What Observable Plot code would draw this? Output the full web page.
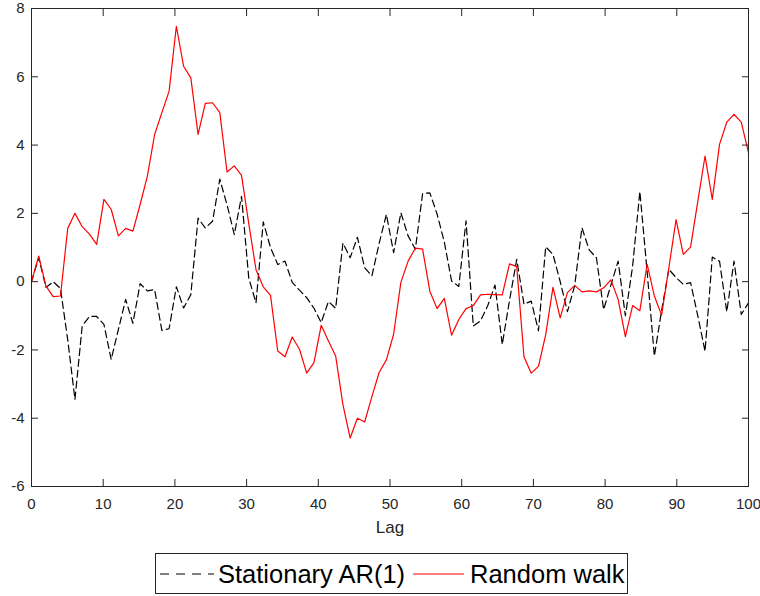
<!DOCTYPE html>
<html>
<head>
<meta charset="utf-8">
<script src="https://cdn.jsdelivr.net/npm/d3@7"></script>
<script src="https://cdn.jsdelivr.net/npm/@observablehq/plot@0.6"></script>
<style>
  body { margin: 0; background: #fff; }
  #wrap { position: relative; width: 760px; height: 596px; overflow: hidden; font-family: "Liberation Sans", Arial, sans-serif; color: #000; }
  #chart { position: absolute; left: 0; top: 0; }
  #legend { position: absolute; left: 155px; top: 553px; width: 473px; height: 41px; box-sizing: border-box; border: 1px solid #262626; background: #fff; }
  #legend .sw { position: absolute; top: 15px; }
  #legend .lt { position: absolute; top: 6px; font-size: 25.5px; line-height: 28px; white-space: nowrap; }
</style>
</head>
<body>
<div id="wrap">
  <div id="chart"></div>
  <div id="legend">
    <svg class="sw" style="left:4px" width="54" height="10"><line x1="0" y1="5" x2="54" y2="5" stroke="#000" stroke-width="1.2" stroke-dasharray="9,7"></line></svg>
    <span class="lt" style="left:62px">Stationary AR(1)</span>
    <svg class="sw" style="left:257px" width="51" height="10"><line x1="0" y1="5" x2="51" y2="5" stroke="#ff0000" stroke-width="1.2"></line></svg>
    <span class="lt" style="left:314px">Random walk</span>
  </div>
</div>
<script>
// Series values (100 samples spanning lag 0..100)
const ar1 = [
  0, 0.7, -0.17, 0.0, -0.2, -1.7, -3.45, -1.3, -1.02, -1.02,
  -1.25, -2.28, -1.4, -0.52, -1.22, -0.06, -0.27, -0.23, -1.43, -1.38,
  -0.15, -0.77, -0.38, 1.86, 1.57, 1.77, 3.0, 2.25, 1.38, 2.5,
  0.1, -0.62, 1.75, 1.0, 0.5, 0.6, -0.02, -0.25, -0.47, -0.78,
  -1.2, -0.58, -0.78, 1.13, 0.7, 1.3, 0.41, 0.17, 1.12, 1.97,
  0.85, 2.02, 1.34, 0.95, 2.58, 2.6, 1.98, 1.16, 0.02, -0.14,
  1.78, -1.3, -1.15, -0.7, -0.1, -1.84, -0.55, 0.65, -0.66, -0.57,
  -1.44, 1.02, 0.8, 0.0, -0.88, -0.12, 1.58, 0.93, 0.7, -0.82,
  -0.1, 0.6, -1.0, 0.45, 2.64, 0.3, -2.18, -0.85, 0.36, 0.12,
  -0.08, -0.03, -1.0, -2.04, 0.72, 0.6, -0.88, 0.6, -0.96, -0.62
];
const randomWalk = [
  0, 0.75, -0.13, -0.44, -0.42, 1.56, 2.0, 1.61, 1.39, 1.09,
  2.41, 2.12, 1.34, 1.56, 1.48, 2.26, 3.09, 4.31, 4.95, 5.58,
  7.48, 6.31, 5.97, 4.31, 5.22, 5.24, 4.95, 3.21, 3.39, 3.11,
  1.7, 0.35, -0.15, -0.4, -2.03, -2.2, -1.62, -1.98, -2.68, -2.37,
  -1.28, -1.74, -2.18, -3.6, -4.58, -4.0, -4.11, -3.37, -2.66, -2.29,
  -1.54, -0.02, 0.6, 0.98, 0.95, -0.28, -0.79, -0.49, -1.57, -1.11,
  -0.79, -0.7, -0.39, -0.37, -0.38, -0.39, 0.52, 0.44, -2.2, -2.68,
  -2.48, -1.55, -0.17, -1.06, -0.32, -0.11, -0.3, -0.27, -0.3, -0.18,
  0.05, -0.52, -1.61, -0.7, -0.85, 0.51, -0.42, -0.98, 0.4, 1.82,
  0.8, 1.01, 2.35, 3.68, 2.41, 4.02, 4.67, 4.9, 4.67, 3.78
];
const xTicks = [0, 10, 20, 30, 40, 50, 60, 70, 80, 90, 100];
const yTicks = [-6, -4, -2, 0, 2, 4, 6, 8];
const xLabel = "Lag";
const lagStart = 0, lagEnd = 100;

const n = ar1.length;
const rows = ar1.map((v, i) => ({
  lag: lagStart + (i * (lagEnd - lagStart)) / (n - 1),
  ar1: v,
  rw: randomWalk[i]
}));

const fmt = d => (d < 0 ? "-" + Math.abs(d) : String(d));
const axisColor = "#262626";
const tick = 7;

const chart = Plot.plot({
  width: 760,
  height: 545,
  marginLeft: 31,
  marginRight: 12,
  marginTop: 8,
  marginBottom: 59,
  style: { fontFamily: "'Liberation Sans', Arial, sans-serif", fontSize: "15px", color: axisColor, background: "#fff", overflow: "visible" },
  x: { domain: [lagStart, lagEnd], label: null },
  y: { domain: [-6, 8], label: null },
  marks: [
    Plot.line(rows, { x: "lag", y: "ar1", stroke: "#000", strokeWidth: 1.2, strokeDasharray: "7,4" }),
    Plot.line(rows, { x: "lag", y: "rw", stroke: "#ff0000", strokeWidth: 1.2 }),
    Plot.axisX(xTicks, { anchor: "bottom", tickSize: 0, tickPadding: 12, tickFormat: fmt, label: null, fill: axisColor }),
    Plot.axisY(yTicks, { anchor: "left", tickSize: 0, tickPadding: 7, tickFormat: fmt, label: null, fill: axisColor }),
    Plot.axisX(xTicks, { anchor: "bottom", tickSize: tick, dy: -tick, tickFormat: () => "", label: null, stroke: axisColor }),
    Plot.axisX(xTicks, { anchor: "top", tickSize: tick, dy: tick, tickFormat: () => "", label: null, stroke: axisColor }),
    Plot.axisY(yTicks, { anchor: "left", tickSize: tick, dx: tick, tickFormat: () => "", label: null, stroke: axisColor }),
    Plot.axisY(yTicks, { anchor: "right", tickSize: tick, dx: -tick, tickFormat: () => "", label: null, stroke: axisColor }),
    Plot.frame({ stroke: axisColor, strokeWidth: 1 }),
    Plot.text([xLabel], { frameAnchor: "bottom", dy: 46, fontSize: 17, fill: axisColor })
  ]
});
document.getElementById("chart").appendChild(chart);
</script>
</body>
</html>
